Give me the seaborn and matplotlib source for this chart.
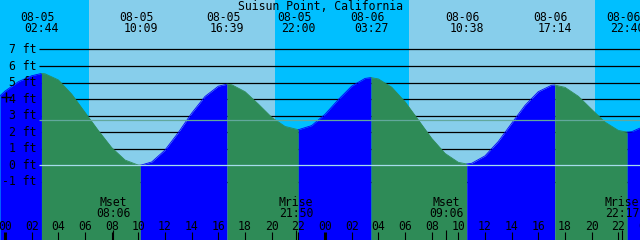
import matplotlib
matplotlib.use("Agg")
import matplotlib.pyplot as plt
import pandas as pd
import seaborn as sns

# ---------------- data ----------------
hours = list(range(48))  # hours since 08-05 00:00
heights = [4.48, 5.05, 5.41, 5.53, 5.16, 4.30, 3.20, 2.10, 1.07, 0.32,
           0.01, 0.20, 0.92, 1.98, 3.15, 4.16, 4.78, 4.87, 4.45, 3.70,
           2.90, 2.35, 2.15, 2.40, 3.08, 3.97, 4.78, 5.25, 5.22, 4.72,
           3.84, 2.74, 1.63, 0.72, 0.18, 0.12, 0.57, 1.44, 2.54, 3.62,
           4.45, 4.84, 4.71, 4.17, 3.38, 2.61, 2.11, 2.03]
edge_hours = [-0.375, 47.625]
edge_heights = [4.20, 2.25]

event_hours = [2.733, 10.15, 16.65, 22.0, 27.45, 34.633, 41.233, 46.667]
event_heights = [5.55, 0.0, 4.9, 2.15, 5.3, 0.08, 4.85, 2.0]
event_dates = ["08-05", "08-05", "08-05", "08-05", "08-06", "08-06", "08-06", "08-06"]
event_times = ["02:44", "10:09", "16:39", "22:00", "03:27", "10:38", "17:14", "22:40"]

sunrise_hours = [6.3, 30.3]
sunset_hours = [20.25, 44.27]

moon_hours = [8.1, 21.833, 33.1, 46.283]
moon_kinds = ["Mset", "Mrise", "Mset", "Mrise"]
moon_times = ["08:06", "21:50", "09:06", "22:17"]

level_ft = [7, 6, 5, 4, 3, 2, 1, 0, -1]
level_labels = ["7 ft", "6 ft", "5 ft", "4 ft", "3 ft", "2 ft", "1 ft", "0 ft", "-1 ft"]
mean_level = 2.73
now_hour, now_height = 0.097, 4.13

hour_ticks = list(range(0, 50, 2))
hour_labels = ["%02d" % (h % 24) for h in hour_ticks]
midnight_ticks = [0, 24, 48]

title = "Suisun Point, California"

# ---------------- layout helpers ----------------
W, H = 640, 240
X0, X1 = -0.375, 47.625
PX_PER_H = W / (X1 - X0)
FT_PER_PX = 1 / 16.55
Y1 = 165.3 * FT_PER_PX
Y0 = Y1 - H * FT_PER_PX


def px2t(x):
    return X0 + x / PX_PER_H


def py2h(y):
    return Y1 - y * FT_PER_PX


NIGHT = "#00BFFF"
DAY = "#87CEEB"
RISE = "#0000FF"
FALL = "#2E8B57"
FONT = dict(family="DejaVu Sans Mono", fontsize=8.3, color="black")

sns.set_style("white")
fig = plt.figure(figsize=(6.4, 2.4), dpi=100)
ax = fig.add_axes([0, 0, 1, 1])
ax.set_xlim(X0, X1)
ax.set_ylim(Y0, Y1)
ax.set_facecolor(NIGHT)
ax.axis("off")
fig.patch.set_facecolor(NIGHT)
ax.add_patch(plt.Rectangle((X0, Y0), X1 - X0, Y1 - Y0, color=NIGHT, zorder=0))
for r, s in zip(sunrise_hours, sunset_hours):
    ax.axvspan(r, s, color=DAY, lw=0, zorder=0.5)

# grid lines behind the water
lx = px2t(39)
ax.hlines([v for v in level_ft], lx, X1, color="black", lw=0.9, zorder=1)

# tide curve
curve = pd.DataFrame({
    "t": hours + edge_hours + event_hours,
    "h": heights + edge_heights + event_heights,
}).sort_values("t").drop_duplicates("t").reset_index(drop=True)

bounds = [X0] + event_hours + [X1]
for a, b in zip(bounds[:-1], bounds[1:]):
    seg = curve[(curve.t >= a) & (curve.t <= b)]
    col = RISE if seg.h.iloc[-1] > seg.h.iloc[0] else FALL
    ax.fill_between(seg.t, seg.h, Y0, color=col, lw=0, zorder=2)
    sns.lineplot(data=seg, x="t", y="h", ax=ax, color=col, lw=0.6,
                 legend=False, zorder=2.1, estimator=None)
ax.set_xlim(X0, X1)
ax.set_ylim(Y0, Y1)
ax.axis("off")

# light reference lines over the water
ax.hlines([0], lx, X1, color="#A6DCEC", lw=0.9, zorder=3)
ax.hlines([mean_level], lx, X1, color="#62A89C", lw=0.9, zorder=3)

# level labels
for v, lab in zip(level_ft, level_labels):
    ax.text(px2t(36.5), v, lab, ha="right", va="center", zorder=5, **FONT)

ax.plot([now_hour], [now_height], marker="+", color="black", ms=7, mew=1.0, zorder=5)

# title and tide events
ax.text(px2t(320), py2h(6), title, ha="center", va="center", zorder=5, **FONT)
for t, d, tm in zip(event_hours, event_dates, event_times):
    ax.text(t - 4 / PX_PER_H, py2h(17.5), d, ha="center", va="center", zorder=5, **FONT)
    ax.text(t, py2h(29), tm, ha="center", va="center", zorder=5, **FONT)

# moon events
for t, k, tm in zip(moon_hours, moon_kinds, moon_times):
    ax.text(t, py2h(202), k, ha="center", va="center", zorder=5, **FONT)
    ax.text(t, py2h(213.5), tm, ha="center", va="center", zorder=5, **FONT)
    ax.vlines([t], py2h(240), py2h(230), color="black", lw=0.8, zorder=5)

# hour ticks
for t, lab in zip(hour_ticks, hour_labels):
    ax.text(t, py2h(226), lab, ha="center", va="center", zorder=5, **FONT)
    lw = 2.2 if t in midnight_ticks else 0.8
    ax.vlines([t], py2h(240), py2h(232), color="black", lw=lw, zorder=5)

fig.savefig("out.png", dpi=100, facecolor=NIGHT)
